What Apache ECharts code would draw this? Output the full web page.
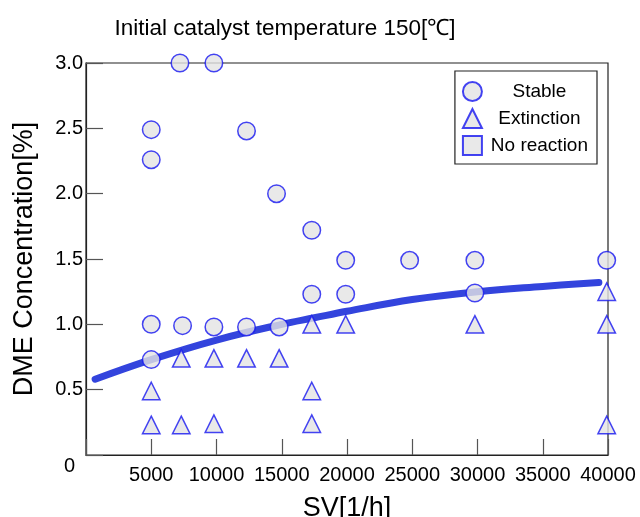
<!DOCTYPE html>
<html>
<head>
<meta charset="utf-8">
<script src="https://cdn.jsdelivr.net/npm/echarts@6/dist/echarts.min.js"></script>
<style>html,body{margin:0;padding:0;background:#fff}#c{width:640px;height:517px}</style>
</head>
<body>
<div id="c"></div>
<script>
var stableSV = [5000, 5000, 7200, 9800, 12300, 14600, 17300, 19900, 24800, 29800, 39900, 5000, 7400, 9800, 12300, 14800, 17300, 19900, 29800, 5000];
var stableConc = [2.49, 2.26, 3.0, 3.0, 2.48, 2.0, 1.72, 1.49, 1.49, 1.49, 1.49, 1.0, 0.99, 0.98, 0.98, 0.98, 1.23, 1.23, 1.24, 0.73];
var extSV = [5000, 5000, 7300, 9800, 7300, 9800, 12300, 14800, 17300, 19900, 17300, 17300, 29800, 39900, 39900, 39900];
var extConc = [0.49, 0.23, 0.23, 0.24, 0.74, 0.74, 0.74, 0.74, 1.0, 1.0, 0.49, 0.24, 1.0, 1.25, 1.0, 0.23];
var noReactSV = [];
var noReactConc = [];
var fitSV = [700, 5000, 10000, 15000, 17500, 20000, 25000, 30000, 35000, 39300];
var fitConc = [0.58, 0.73, 0.88, 1.0, 1.05, 1.1, 1.19, 1.25, 1.29, 1.32];
var xTicks = [5000, 10000, 15000, 20000, 25000, 30000, 35000, 40000];
var yTicks = [0.5, 1.0, 1.5, 2.0, 2.5, 3.0];

function pairs(a, b) { return a.map(function (v, i) { return [v, b[i]]; }); }

var FONT = 'Liberation Sans, Arial, sans-serif';
var mk = { color: '#e4e4e4', borderColor: '#1515f0', borderWidth: 1.5 };

var chart = echarts.init(document.getElementById('c'), null, { renderer: 'canvas' });
chart.setOption({
  animation: false,
  title: {
    text: 'Initial catalyst temperature 150[℃]',
    left: 280, top: 12, textAlign: 'center',
    textStyle: { fontFamily: FONT, fontSize: 22.5, fontWeight: 'normal', color: '#000' }
  },
  grid: { left: 86, right: 32, top: 63, bottom: 62, show: true, borderColor: '#222', borderWidth: 1.2,
    containLabel: false, outerBoundsMode: 'none' },
  legend: {
    orient: 'vertical', right: 43, top: 71,
    data: ['Stable', 'Extinction', 'No reaction'],
    itemWidth: 19, itemHeight: 19, itemGap: 6,
    padding: [10, 9, 8, 7],
    borderColor: '#222', borderWidth: 1.2, borderRadius: 0,
    formatter: function (n) { return '{a|' + n + '}'; },
    textStyle: { fontFamily: FONT, fontSize: 19, color: '#000',
      rich: { a: { width: 105, align: 'center', fontFamily: FONT, fontSize: 19 } } }
  },
  xAxis: {
    type: 'value', min: 0, max: 40000, interval: 5000,
    name: 'SV[1/h]', nameLocation: 'middle', nameGap: 40,
    nameTextStyle: { fontFamily: FONT, fontSize: 27, color: '#000', verticalAlign: 'top' },
    axisLine: { onZero: false, lineStyle: { color: '#222', width: 1.2 } },
    axisTick: { inside: true, length: 16, lineStyle: { color: '#555', width: 1.2 } },
    axisLabel: { fontFamily: FONT, fontSize: 20, color: '#000', margin: 10,
      formatter: function (v) { return xTicks.indexOf(v) >= 0 ? String(v) : ''; } },
    splitLine: { show: false }
  },
  yAxis: {
    type: 'value', min: 0, max: 3.0, interval: 0.5,
    name: 'DME Concentration[%]', nameLocation: 'middle', nameGap: 48,
    nameTextStyle: { fontFamily: FONT, fontSize: 27, color: '#000' },
    axisLine: { onZero: false, lineStyle: { color: '#222', width: 1.2 } },
    axisTick: { inside: true, length: 17, lineStyle: { color: '#555', width: 1.2 } },
    axisLabel: { fontFamily: FONT, fontSize: 20, color: '#000', margin: 3,
      formatter: function (v) { return yTicks.indexOf(v) >= 0 ? v.toFixed(1) : ''; } },
    splitLine: { show: false }
  },
  graphic: [{
    type: 'text', left: 64, top: 456,
    style: { text: '0', fontFamily: FONT, fontSize: 20, fill: '#000' }
  }],
  series: [
    { name: 'fit', type: 'line', data: pairs(fitSV, fitConc), smooth: 0.4, showSymbol: false,
      lineStyle: { color: '#3344dd', width: 7, cap: 'round' }, z: 3 },
    { name: 'Stable', type: 'scatter', symbol: 'circle', symbolSize: 17.5, clip: false,
      data: pairs(stableSV, stableConc), itemStyle: mk, z: 4 },
    { name: 'Extinction', type: 'scatter', symbol: 'triangle', symbolSize: 17.5, clip: false,
      data: pairs(extSV, extConc), itemStyle: mk, z: 4 },
    { name: 'No reaction', type: 'scatter', symbol: 'rect', symbolSize: 17,
      data: pairs(noReactSV, noReactConc), itemStyle: mk, z: 4 }
  ]
});
</script>
</body>
</html>
